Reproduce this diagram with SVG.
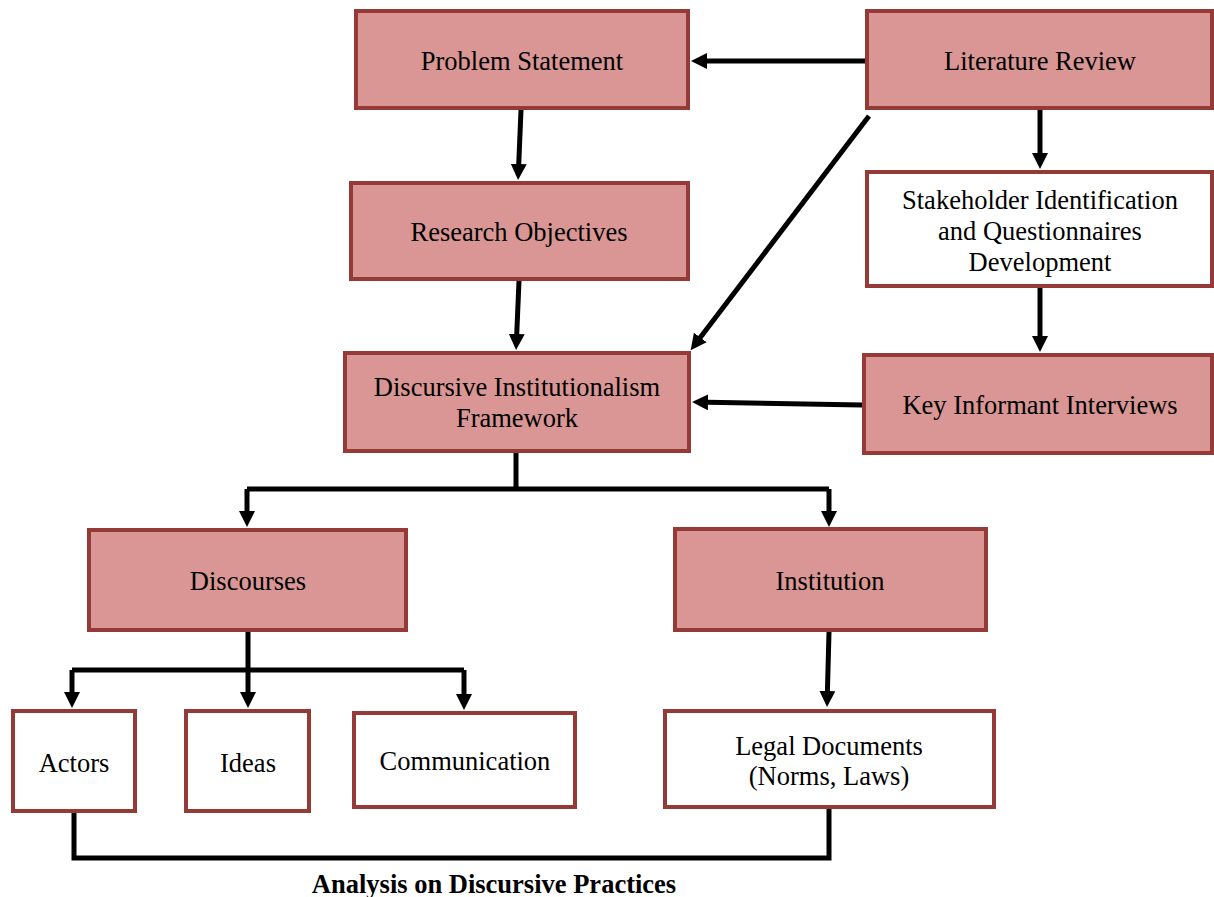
<svg xmlns="http://www.w3.org/2000/svg" width="1214" height="897" viewBox="0 0 1214 897">
<style>
.box{stroke:#963A37;stroke-width:4}
.fill{fill:#D99694}
.white{fill:#FFFFFF}
.t{font-family:"Liberation Serif","Times New Roman",serif;font-size:26.5px;fill:#000;text-anchor:middle}
.b{font-weight:bold}
.c{stroke:#000;stroke-width:5;fill:none}
.a{marker-end:url(#arr)}
</style>
<defs>
<marker id="arr" markerUnits="userSpaceOnUse" markerWidth="18" markerHeight="18" refX="1" refY="8" orient="auto">
<path d="M0,0 L16,8 L0,16 z" fill="#000"/>
</marker>
</defs>
<rect width="1214" height="897" fill="#fff"/>
<g id="connectors">
<line class="c a" x1="865" y1="61" x2="706" y2="61"/>
<line class="c a" x1="521" y1="110" x2="518.7" y2="165"/>
<line class="c a" x1="519" y1="281" x2="516.7" y2="335"/>
<line class="c a" x1="869" y1="116" x2="699.7" y2="338.3"/>
<line class="c a" x1="1040" y1="110" x2="1040" y2="154"/>
<line class="c a" x1="1040" y1="288" x2="1040" y2="337"/>
<line class="c a" x1="862" y1="405" x2="707" y2="402.3"/>
<path class="c" d="M516,453 V489 M247,489 H829"/>
<line class="c a" x1="247" y1="489" x2="247" y2="512"/>
<line class="c a" x1="829" y1="489" x2="829" y2="512"/>
<path class="c" d="M248,632 V670 M72,670 H464"/>
<line class="c a" x1="72" y1="670" x2="72" y2="693"/>
<line class="c a" x1="248" y1="670" x2="248" y2="693"/>
<line class="c a" x1="464" y1="670" x2="464" y2="695"/>
<line class="c a" x1="829" y1="632" x2="827.4" y2="692"/>
<path class="c" d="M74,813 V858 H829 V808"/>
</g>
<g id="problem-statement">
<rect class="box fill" x="356" y="11" width="332" height="97"/>
<text class="t" x="522" y="70">Problem Statement</text>
</g>
<g id="literature-review">
<rect class="box fill" x="867" y="11" width="345" height="97"/>
<text class="t" x="1040" y="70">Literature Review</text>
</g>
<g id="research-objectives">
<rect class="box fill" x="351" y="183" width="337" height="96"/>
<text class="t" x="519" y="241">Research Objectives</text>
</g>
<g id="stakeholder-identification">
<rect class="box white" x="867" y="172" width="345" height="114"/>
<text class="t" x="1040" y="209">Stakeholder Identification</text>
<text class="t" x="1040" y="240">and Questionnaires</text>
<text class="t" x="1040" y="271">Development</text>
</g>
<g id="dif">
<rect class="box fill" x="345" y="353" width="344" height="98"/>
<text class="t" x="517" y="396">Discursive Institutionalism</text>
<text class="t" x="517" y="427">Framework</text>
</g>
<g id="key-informant-interviews">
<rect class="box fill" x="864" y="355" width="348" height="98"/>
<text class="t" x="1040" y="414">Key Informant Interviews</text>
</g>
<g id="discourses">
<rect class="box fill" x="89" y="530" width="317" height="100"/>
<text class="t" x="248" y="590">Discourses</text>
</g>
<g id="institution">
<rect class="box fill" x="675" y="529" width="311" height="101"/>
<text class="t" x="830" y="590">Institution</text>
</g>
<g id="actors">
<rect class="box white" x="13" y="711" width="122" height="100"/>
<text class="t" x="74" y="772">Actors</text>
</g>
<g id="ideas">
<rect class="box white" x="186" y="711" width="123" height="100"/>
<text class="t" x="248" y="772">Ideas</text>
</g>
<g id="communication">
<rect class="box white" x="354" y="713" width="221" height="94"/>
<text class="t" x="465" y="770">Communication</text>
</g>
<g id="legal-documents">
<rect class="box white" x="665" y="711" width="329" height="96"/>
<text class="t" x="829" y="755">Legal Documents</text>
<text class="t" x="829" y="785">(Norms, Laws)</text>
</g>
<g id="analysis-label">
<text class="t b" x="494" y="893">Analysis on Discursive Practices</text>
</g>
</svg>
